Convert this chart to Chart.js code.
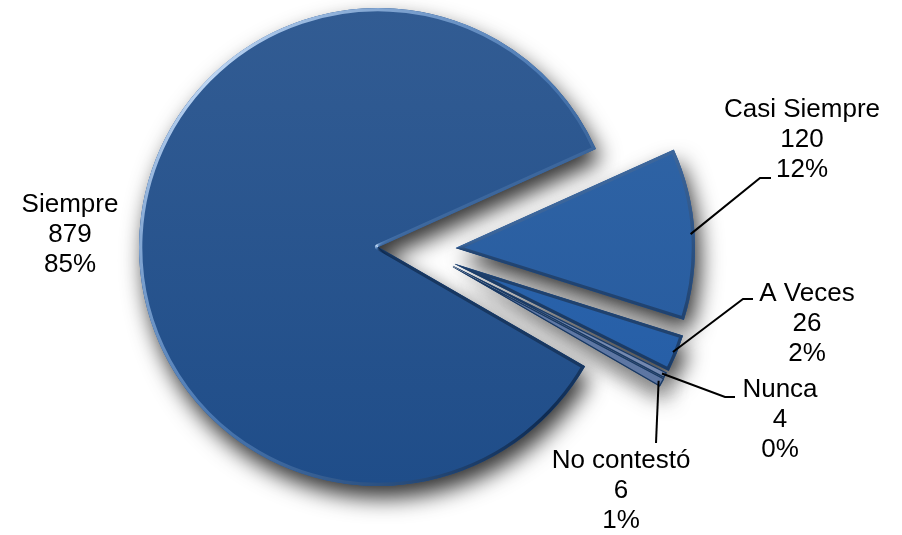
<!DOCTYPE html>
<html>
<head>
<meta charset="utf-8">
<script src="https://cdn.jsdelivr.net/npm/chart.js@4.4.1/dist/chart.umd.min.js"></script>
<style>
  html, body { margin: 0; padding: 0; background: #fff; }
  canvas { display: block; }
</style>
</head>
<body>
<canvas id="chart" width="902" height="535"></canvas>
<script>
// Survey answers
const categories = ['Siempre', 'Casi Siempre', 'A Veces', 'Nunca', 'No contestó'];
const counts = [879, 120, 26, 4, 6];
const percentLabels = ['85%', '12%', '2%', '0%', '1%'];

// how far each slice is pulled out of the pie, in px
const explode = [[0, 0], [78, 1], [77, 17], [75, 19], [75, 20]];
const topColors = ['#325c93', '#3267a8', '#2e69b1', '#8498bd', '#6d86b1'];
const bottomColors = ['#1f4d89', '#24589c', '#245ba3', '#6c81a9', '#57709d'];
const rimWidths = [3, 3, 3, 1, 1];

// label block: centre x, first baseline, leader line bend points
const labelSpots = [
    { x: 70, y: 212, line: null },
    { x: 802, y: 117, line: [[760, 178], [771, 178]] },
    { x: 807, y: 301, line: [[743, 299], [753, 299]] },
    { x: 780, y: 397, line: [[725, 397], [735, 397]] },
    { x: 621, y: 468, line: [[656, 443]] }
];

// centre and radius of a slice once it has been pulled out
function sliceBox(c) {
    const a = c.chart.chartArea;
    const r = Math.min(a.right - a.left, a.bottom - a.top) / 2;
    return {
        cx: (a.left + a.right) / 2 + explode[c.dataIndex][0],
        cy: (a.top + a.bottom) / 2 + explode[c.dataIndex][1],
        r: r
    };
}

function sliceFill(c) {
    if (!c.chart.chartArea) return topColors[c.dataIndex];
    const b = sliceBox(c);
    const g = c.chart.ctx.createLinearGradient(0, b.cy - b.r, 0, b.cy + b.r);
    g.addColorStop(0, topColors[c.dataIndex]);
    g.addColorStop(1, bottomColors[c.dataIndex]);
    return g;
}

// rim lit from the top left, dark on the bottom right
function sliceRim(c) {
    const ctx = c.chart.ctx;
    if (!c.chart.chartArea || !ctx.createConicGradient) return '#5f8cc4';
    const b = sliceBox(c);
    const g = ctx.createConicGradient(Math.PI / 4, b.cx, b.cy);
    g.addColorStop(0, '#0e2b52');
    g.addColorStop(0.25, '#4a78b2');
    g.addColorStop(0.5, '#bcd5f3');
    g.addColorStop(0.75, '#4a78b2');
    g.addColorStop(1, '#0e2b52');
    return g;
}

const explodePlugin = {
    id: 'explode',
    afterDatasetsUpdate(chart) {
        chart.getDatasetMeta(0).data.forEach((arc, i) => {
            arc.x += explode[i][0];
            arc.y += explode[i][1];
        });
    }
};

// soft drop shadow under every slice
const shadowPlugin = {
    id: 'pieShadow',
    beforeDatasetsDraw(chart) {
        const ctx = chart.ctx;
        ctx.save();
        ctx.shadowColor = 'rgba(0, 0, 0, 0.8)';
        ctx.shadowBlur = 22;
        ctx.shadowOffsetX = 5;
        ctx.shadowOffsetY = 12;
        ctx.fillStyle = '#2a5690';
        chart.getDatasetMeta(0).data.forEach(arc => {
            ctx.beginPath();
            ctx.moveTo(arc.x, arc.y);
            ctx.arc(arc.x, arc.y, arc.outerRadius, arc.startAngle, arc.endAngle);
            ctx.closePath();
            ctx.fill();
        });
        ctx.restore();
    }
};

const labelPlugin = {
    id: 'sliceLabels',
    afterDatasetsDraw(chart) {
        const ctx = chart.ctx;
        const arcs = chart.getDatasetMeta(0).data;
        ctx.save();
        ctx.strokeStyle = '#000';
        ctx.lineWidth = 2;
        ctx.fillStyle = '#000';
        ctx.font = '26px "Liberation Sans", Arial, sans-serif';
        ctx.textAlign = 'center';
        ctx.textBaseline = 'alphabetic';
        arcs.forEach((arc, i) => {
            const spot = labelSpots[i];
            if (spot.line) {
                const mid = (arc.startAngle + arc.endAngle) / 2;
                const r = arc.outerRadius - 4;
                ctx.beginPath();
                ctx.moveTo(arc.x + Math.cos(mid) * r, arc.y + Math.sin(mid) * r);
                spot.line.forEach(p => ctx.lineTo(p[0], p[1]));
                ctx.stroke();
            }
            [categories[i], String(counts[i]), percentLabels[i]].forEach((t, k) => {
                ctx.fillText(t, spot.x, spot.y + k * 30);
            });
        });
        ctx.restore();
    }
};

var ctx = document.getElementById('chart').getContext('2d');

var chart = new Chart(ctx, {
    type: 'pie',
    data: {
        labels: categories,
        datasets: [{
            data: counts,
            backgroundColor: sliceFill,
            borderColor: sliceRim,
            borderWidth: (c) => rimWidths[c.dataIndex],
            borderAlign: 'inner'
        }]
    },
    options: {
        responsive: false,
        animation: false,
        events: [],
        rotation: 120,
        layout: {
            padding: { left: 139, right: 285, top: 8, bottom: 49 }
        },
        plugins: {
            legend: { display: false },
            tooltip: { enabled: false }
        }
    },
    plugins: [explodePlugin, shadowPlugin, labelPlugin]
});
</script>
</body>
</html>
